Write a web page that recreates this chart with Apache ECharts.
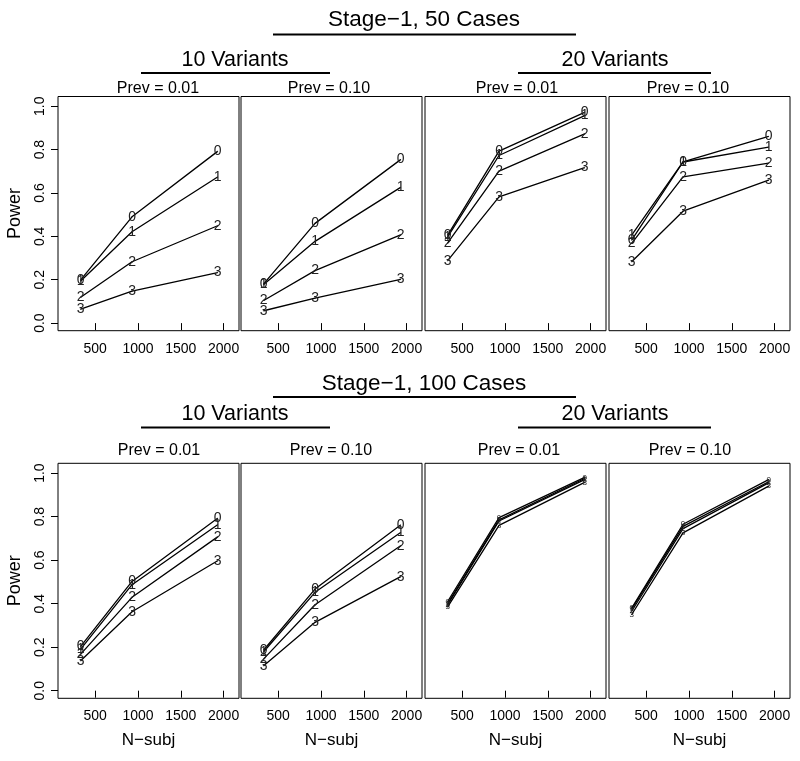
<!DOCTYPE html>
<html>
<head>
<meta charset="utf-8">
<script src="https://cdn.jsdelivr.net/npm/echarts@6/dist/echarts.min.js"></script>
<style>
html,body{margin:0;padding:0;background:#fff;}
#chart{width:800px;height:761px;}
</style>
</head>
<body>
<div id="chart"></div>
<script>
// ---- data ----
const nSubj = [330, 930, 1930];
const xTickVals = [500, 1000, 1500, 2000];
const yTickVals = [0.0, 0.2, 0.4, 0.6, 0.8, 1.0];
const seriesDigits = ['0', '1', '2', '3'];
const stageTitles = ['Stage\u22121, 50 Cases', 'Stage\u22121, 100 Cases'];
const variantTitles = ['10 Variants', '20 Variants'];
const prevTitles = ['Prev = 0.01', 'Prev = 0.10', 'Prev = 0.01', 'Prev = 0.10'];

// power per series (rows: series 0..3, cols: nSubj points)
const c50_v10_p01 = [[0.199, 0.490, 0.792], [0.194, 0.421, 0.674], [0.119, 0.283, 0.449], [0.064, 0.148, 0.233]];
const c50_v10_p10 = [[0.181, 0.460, 0.754], [0.178, 0.377, 0.626], [0.104, 0.242, 0.407], [0.057, 0.115, 0.202]];
const c50_v20_p01 = [[0.406, 0.793, 0.972], [0.398, 0.773, 0.957], [0.370, 0.701, 0.873], [0.288, 0.582, 0.717]];
const c50_v20_p10 = [[0.383, 0.743, 0.861], [0.406, 0.743, 0.812], [0.368, 0.674, 0.738], [0.283, 0.516, 0.659]];
const c100_v10_p01 = [[0.204, 0.502, 0.792], [0.191, 0.487, 0.763], [0.168, 0.429, 0.707], [0.138, 0.363, 0.597]];
const c100_v10_p10 = [[0.187, 0.467, 0.761], [0.179, 0.452, 0.727], [0.146, 0.395, 0.666], [0.115, 0.314, 0.524]];
const c100_v20_p01 = [[0.410, 0.795, 0.980], [0.400, 0.785, 0.975], [0.395, 0.780, 0.970], [0.385, 0.760, 0.957]];
const c100_v20_p10 = [[0.380, 0.765, 0.970], [0.375, 0.755, 0.960], [0.365, 0.745, 0.955], [0.350, 0.725, 0.940]];

const panelData = [c50_v10_p01, c50_v10_p10, c50_v20_p01, c50_v20_p10,
                   c100_v10_p01, c100_v10_p10, c100_v20_p01, c100_v20_p10];

// ---- layout ----
const FONT = 'Liberation Sans, Arial, Helvetica, sans-serif';
const colLeft = [58, 241, 425, 609];
const colW = 181;
const rowTop = [96.5, 463.3];
const rowH = [234.2, 235];
const xMin = 65, xMax = 2180;
const yMin = -0.035, yMax = 1.045;

const grids = [], xAxes = [], yAxes = [], series = [];
for (let p = 0; p < 8; p++) {
  const row = Math.floor(p / 4), col = p % 4;
  grids.push({
    left: colLeft[col], top: rowTop[row], width: colW, height: rowH[row],
    show: true, borderColor: '#000', borderWidth: 1, backgroundColor: 'transparent'
  });
  const isBottom = row === 1;
  xAxes.push({
    type: 'value', gridIndex: p, min: xMin, max: xMax,
    splitLine: {show: false},
    axisLine: {show: false},
    axisTick: {show: true, length: 7, inside: false, customValues: xTickVals, lineStyle: {color: '#000', width: 1}},
    axisLabel: {show: true, customValues: xTickVals, fontSize: 14, color: '#000', fontFamily: FONT, margin: 11,
                formatter: v => String(v)},
    name: isBottom ? 'N\u2212subj' : '',
    nameLocation: 'middle', nameGap: 34,
    nameTextStyle: {fontSize: 17, color: '#000', fontFamily: FONT}
  });
  const isLeft = col === 0;
  yAxes.push({
    type: 'value', gridIndex: p, min: yMin, max: yMax,
    splitLine: {show: false},
    axisLine: {show: false},
    axisTick: {show: isLeft, length: 7, customValues: yTickVals, lineStyle: {color: '#000', width: 1}},
    axisLabel: {show: isLeft, customValues: yTickVals, rotate: 90, fontSize: 14, color: '#000',
                fontFamily: FONT, margin: 11, formatter: v => v.toFixed(1)},
    name: isLeft ? 'Power' : '',
    nameLocation: 'middle', nameGap: 34,
    nameTextStyle: {fontSize: 18, color: '#000', fontFamily: FONT}
  });
  const small = (p === 6 || p === 7);
  panelData[p].forEach((vals, s) => {
    series.push({
      type: 'line', xAxisIndex: p, yAxisIndex: p,
      data: nSubj.map((x, k) => [x, vals[k]]),
      symbol: 'circle', symbolSize: 1,
      itemStyle: {color: '#000'},
      lineStyle: {color: '#000', width: 1.3},
      label: {show: true, position: 'inside', formatter: () => seriesDigits[s],
              fontSize: small ? 8 : 14, color: '#222', fontFamily: FONT},
      silent: true, animation: false
    });
  });
}

// ---- header graphics ----
const graphics = [];
function txt(x, y, s, size) {
  graphics.push({type: 'text', x: x, y: y, style: {text: s, fill: '#000', font: size + 'px ' + FONT,
                 textAlign: 'center', textVerticalAlign: 'middle'}});
}
function hline(x1, x2, y) {
  graphics.push({type: 'line', shape: {x1: x1, y1: y, x2: x2, y2: y}, style: {stroke: '#000', lineWidth: 2}});
}
const stageY = [[19.5, 34.5], [383.5, 397]];
const varY = [[60, 73], [414, 427.5]];
const prevY = [89, 451];
const prevX = [[158, 329, 517, 688], [159, 331, 519, 690]];
for (let r = 0; r < 2; r++) {
  txt(424, stageY[r][0], stageTitles[r], 22.5);
  hline(273, 576, stageY[r][1]);
  txt(235, varY[r][0], variantTitles[0], 21.5);
  hline(141, 330, varY[r][1]);
  txt(615, varY[r][0], variantTitles[1], 21.5);
  hline(518, 711, varY[r][1]);
  for (let c = 0; c < 4; c++) txt(prevX[r][c], prevY[r], prevTitles[c], 16);
}

const chart = echarts.init(document.getElementById('chart'), null, {renderer: 'canvas'});
chart.setOption({
  animation: false,
  backgroundColor: '#fff',
  grid: grids, xAxis: xAxes, yAxis: yAxes, series: series,
  graphic: graphics
});
</script>
</body>
</html>
